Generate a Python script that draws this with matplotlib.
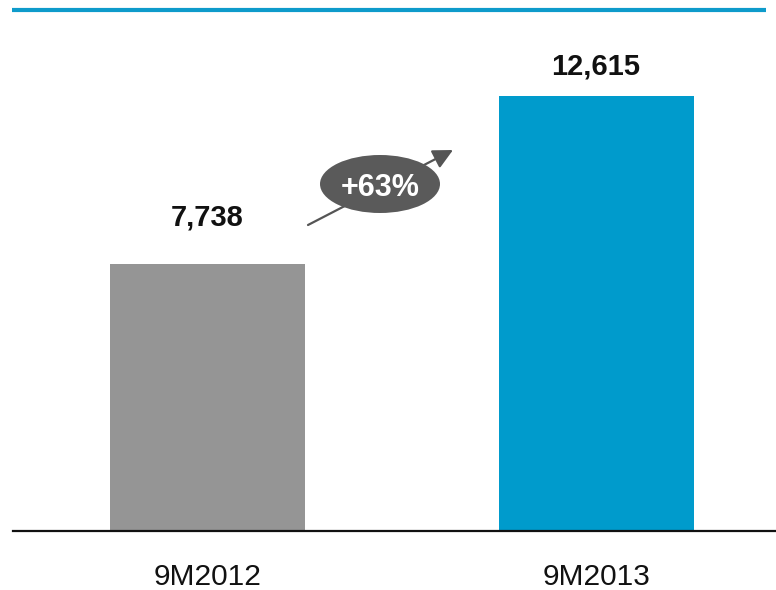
import matplotlib
matplotlib.use("Agg")
import matplotlib.pyplot as plt
from matplotlib.lines import Line2D
from matplotlib.patches import Ellipse, FancyArrowPatch

plt.rcParams['font.family'] = ['Liberation Sans', 'DejaVu Sans']

# Data
periods = ["9M2012", "9M2013"]
values = [7738, 12615]
growth_label = "+63%"
bar_colors = ["#959595", "#009BCC"]
label_offsets_pt = [27.5, 15.5]

W, H = 776, 590
fig = plt.figure(figsize=(W / 100, H / 100), dpi=100)

# Axes spans from the baseline (y=531px) up to the header rule
ax_left, ax_right = 13 / W, 776 / W
ax_bottom, ax_top = 1 - 531 / H, 1 - 10 / H
ax = fig.add_axes([ax_left, ax_bottom, ax_right - ax_left, ax_top - ax_bottom])

x = list(range(len(periods)))
ax.bar(x, values, width=0.502, color=bar_colors, zorder=2)

ax.set_xlim(-0.5006, 1.463)
ax.set_ylim(0, 12615 * 521 / 435)

for s in ["top", "right", "left"]:
    ax.spines[s].set_visible(False)
ax.spines["bottom"].set_linewidth(1.6)
ax.spines["bottom"].set_color("#111111")
ax.set_yticks([])
ax.set_xticks(x)
ax.set_xticklabels(periods, fontsize=21.5, color="#111111")
ax.tick_params(axis="x", length=0, pad=23)

for xi, v, off in zip(x, values, label_offsets_pt):
    ax.annotate(f"{v:,}", xy=(xi, v), xytext=(0, off), textcoords="offset points",
                ha="center", va="baseline", fontsize=21, fontweight="bold", color="#111111")

# Header rule
fig.add_artist(Line2D([12 / W, 766 / W], [1 - 10 / H, 1 - 10 / H],
                      color="#0E9BCB", linewidth=3.0, solid_capstyle="butt"))

# Growth arrow with badge
def fx(px):
    return px / W

def fy(py):
    return 1 - py / H

arrow = FancyArrowPatch((fx(308), fy(225)), (fx(453), fy(150)),
                        transform=fig.transFigure,
                        arrowstyle="-|>,head_length=12,head_width=6",
                        color="#555555", linewidth=1.6, mutation_scale=1,
                        shrinkA=0, shrinkB=0)
fig.add_artist(arrow)
badge = Ellipse((fx(380), fy(184)), 120 / W, 58 / H, transform=fig.transFigure,
                facecolor="#5A5A5A", edgecolor="none")
fig.add_artist(badge)
fig.text(fx(380), fy(196), growth_label, ha="center", va="baseline", color="white",
         fontsize=22, fontweight="bold")

fig.savefig("out.png", dpi=100)
